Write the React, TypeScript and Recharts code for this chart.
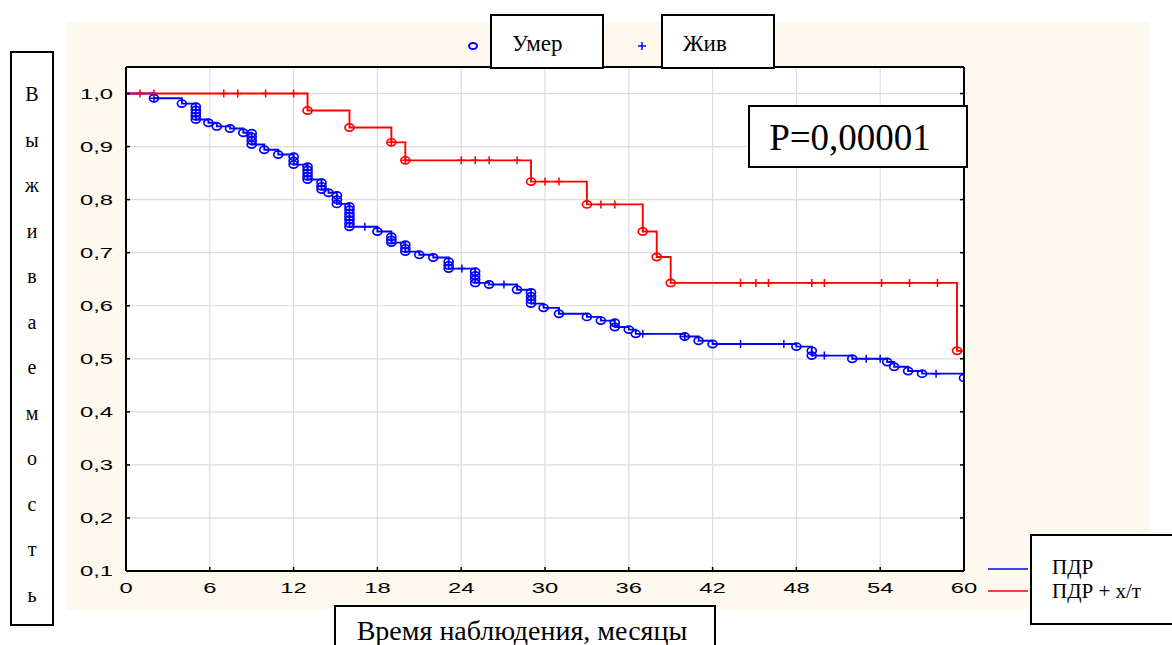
import React from 'react';
import { ComposedChart, Line, Scatter, XAxis, YAxis, CartesianGrid } from 'recharts';

// ---- axis ticks ----
const xTicks = [0, 6, 12, 18, 24, 30, 36, 42, 48, 54, 60];
const yTicks = [0.1, 0.2, 0.3, 0.4, 0.5, 0.6, 0.7, 0.8, 0.9, 1.0];
const topTicks = [0, 1, 2, 3, 4, 5, 6, 7];

// ---- ПДР (blue) Kaplan–Meier steps ----
const blueTimes = [0, 2, 4, 5, 5.9, 6.5, 7.45, 8.4, 9, 9.9, 10.9, 12, 13, 14, 14.5, 15.1, 16, 18, 19, 20, 21, 22, 23.1, 25, 26, 28, 29, 29.9, 31, 33, 34, 35, 36, 36.5, 40, 41, 42, 48, 49.1, 52, 54.5, 55, 56, 57, 60];
const blueSurv = [1, 0.991, 0.981, 0.951, 0.945, 0.938, 0.934, 0.926, 0.904, 0.894, 0.885, 0.866, 0.838, 0.819, 0.813, 0.792, 0.749, 0.74, 0.719, 0.702, 0.696, 0.691, 0.67, 0.643, 0.64, 0.63, 0.604, 0.596, 0.585, 0.579, 0.572, 0.56, 0.555, 0.547, 0.542, 0.534, 0.528, 0.523, 0.506, 0.5, 0.494, 0.485, 0.477, 0.472, 0.464];

// blue complete observations (Умер), [time, survival]
const blueDeaths: [number, number][] = [
  [2, 0.991], [4, 0.981],
  [5, 0.975], [5, 0.969], [5, 0.963], [5, 0.957], [5, 0.951],
  [5.9, 0.945], [6.5, 0.938], [7.45, 0.934], [8.4, 0.926],
  [9, 0.925], [9, 0.918], [9, 0.911], [9, 0.904],
  [9.9, 0.894], [10.9, 0.885],
  [12, 0.881], [12, 0.873], [12, 0.866],
  [13, 0.862], [13, 0.856], [13, 0.85], [13, 0.844], [13, 0.838],
  [14, 0.832], [14, 0.825], [14, 0.819],
  [14.5, 0.813],
  [15.1, 0.808], [15.1, 0.8], [15.1, 0.792],
  [16, 0.787], [16, 0.781], [16, 0.774], [16, 0.768], [16, 0.762], [16, 0.755], [16, 0.749],
  [18, 0.74],
  [19, 0.73], [19, 0.724], [19, 0.719],
  [20, 0.715], [20, 0.708], [20, 0.702],
  [21, 0.696], [22, 0.691],
  [23.1, 0.683], [23.1, 0.676], [23.1, 0.67],
  [25, 0.664], [25, 0.657], [25, 0.65], [25, 0.643],
  [26, 0.64], [28, 0.63],
  [29, 0.625], [29, 0.618], [29, 0.611], [29, 0.604],
  [29.9, 0.596], [31, 0.585], [33, 0.579], [34, 0.572],
  [35, 0.568], [35, 0.56],
  [36, 0.555], [36.5, 0.547],
  [40, 0.542], [41, 0.534], [42, 0.528], [48, 0.523],
  [49.1, 0.515], [49.1, 0.506],
  [52, 0.5], [54.5, 0.494], [55, 0.485], [56, 0.477], [57, 0.472], [60, 0.464],
];
// blue censored observations (Жив)
const blueCensored: [number, number][] = [
  [2, 0.991], [17.1, 0.749], [24.05, 0.67], [27.06, 0.64], [37, 0.547], [40, 0.542],
  [44, 0.528], [47.1, 0.528], [50, 0.506], [53, 0.5], [54, 0.5], [58, 0.472],
];

// ---- ПДР + х/т (red) ----
const redTimes = [0, 13, 16, 19, 20, 29, 33, 37, 38, 39, 59.5, 60];
const redSurv = [1, 0.968, 0.936, 0.908, 0.874, 0.834, 0.791, 0.74, 0.692, 0.643, 0.515, 0.515];
const redDeaths: [number, number][] = [
  [13, 0.968], [16, 0.936], [19, 0.908], [20, 0.874], [29, 0.834], [33, 0.791],
  [37, 0.74], [38, 0.692], [39, 0.643], [59.5, 0.515],
];
const redCensored: [number, number][] = [
  [1, 1], [2, 1], [7, 1], [8, 1], [10, 1], [12, 1], [19, 0.908], [20, 0.874],
  [24, 0.874], [25, 0.874], [26, 0.874], [28, 0.874], [30, 0.834], [31, 0.834],
  [34, 0.791], [35, 0.791], [44, 0.643], [45.1, 0.643], [46, 0.643], [49.1, 0.643],
  [50, 0.643], [54.1, 0.643], [56.1, 0.643], [58.1, 0.643],
];

const yLabelLetters = ['В', 'ы', 'ж', 'и', 'в', 'а', 'е', 'м', 'о', 'с', 'т', 'ь'];

const BLUE = '#0000ff';
const RED = '#ff0000';

const toPts = (arr: [number, number][]) => arr.map(([t, s]) => ({ t, s }));
const blueLine = blueTimes.map((t, i) => ({ t, s: blueSurv[i] }));
const redLine = redTimes.map((t, i) => ({ t, s: redSurv[i] }));

const fmt = (v: number) => v.toFixed(1).replace('.', ',');

const SANS = '"Liberation Sans", Arial, sans-serif';
const SERIF = '"Liberation Serif", "Times New Roman", serif';

const LeftTick = (p: any) => {
  const { x, y, payload } = p;
  return (
    <g>
      <line x1={x} x2={x + 4} y1={y} y2={y} stroke="#000" strokeWidth={1.5} />
      <text transform={`translate(${x - 13},${y}) scale(1.7,1)`} textAnchor="end" dy="0.36em"
        fontFamily={SANS} fontSize={14} fill="#000">{fmt(payload.value)}</text>
    </g>
  );
};
const BottomTick = (p: any) => {
  const { x, y, payload } = p;
  return (
    <g>
      <line x1={x} x2={x} y1={y - 4} y2={y} stroke="#000" strokeWidth={1.5} />
      <text transform={`translate(${x},${y + 22}) scale(1.7,1)`} textAnchor="middle"
        fontFamily={SANS} fontSize={14} fill="#000">{payload.value}</text>
    </g>
  );
};
const TopTick = (p: any) => {
  const { x, y } = p;
  return <line x1={x} x2={x} y1={y} y2={y + 4} stroke="#000" strokeWidth={1.5} />;
};
const RightTick = (p: any) => {
  const { x, y } = p;
  return <line x1={x - 4} x2={x} y1={y} y2={y} stroke="#000" strokeWidth={1.5} />;
};

const circleShape = (color: string) => (p: any) => (
  <ellipse cx={p.cx} cy={p.cy} rx={4.5} ry={3.6} fill="none" stroke={color} strokeWidth={1.7} />
);
const plusShape = (color: string) => (p: any) => (
  <path d={`M${p.cx - 4},${p.cy}H${p.cx + 4}M${p.cx},${p.cy - 4}V${p.cy + 4}`} stroke={color} strokeWidth={1.5} fill="none" />
);

export default function App() {
  return (
    <div style={{ position: 'absolute', left: 0, top: 0, width: 1172, height: 645, background: '#fff', overflow: 'hidden' }}>
      <div style={{ position: 'absolute', left: 66, top: 22, width: 1084, height: 588, background: '#fdf9ee' }} />
      <div style={{ position: 'absolute', left: 0, top: 0 }}>
        <ComposedChart width={1172} height={645} margin={{ top: 59, right: 200, bottom: 44, left: 66 }}>
          <CartesianGrid xAxisId="x" yAxisId="y" stroke="#dcdcdc" strokeWidth={1.2} fill="#ffffff" />
          <XAxis xAxisId="x" dataKey="t" type="number" domain={[0, 60]} ticks={xTicks} allowDataOverflow
            height={30} tickSize={0} tickMargin={0} tickLine={false} axisLine={{ stroke: '#000', strokeWidth: 2 }}
            tick={<BottomTick />} interval={0} />
          <XAxis xAxisId="top" orientation="top" type="number" domain={[-0.25, 7]} ticks={topTicks} allowDataOverflow
            height={8} tickSize={0} tickMargin={0} tickLine={false} axisLine={{ stroke: '#000', strokeWidth: 2 }}
            tick={<TopTick />} interval={0} />
          <YAxis yAxisId="y" dataKey="s" type="number" domain={[0.1, 1.05]} ticks={yTicks} allowDataOverflow
            width={60} tickSize={0} tickMargin={0} tickLine={false} axisLine={{ stroke: '#000', strokeWidth: 2 }}
            tick={<LeftTick />} interval={0} />
          <YAxis yAxisId="r" orientation="right" type="number" domain={[0.1, 1.05]} ticks={yTicks} allowDataOverflow
            width={8} tickSize={0} tickMargin={0} tickLine={false} axisLine={{ stroke: '#000', strokeWidth: 2 }}
            tick={<RightTick />} interval={0} />

          <Line xAxisId="x" yAxisId="y" data={blueLine} dataKey="s" type="stepAfter" stroke={BLUE} strokeWidth={1.9}
            dot={false} activeDot={false} isAnimationActive={false} />
          <Scatter xAxisId="x" yAxisId="y" data={toPts(blueDeaths)} dataKey="s" shape={circleShape(BLUE)} isAnimationActive={false} />
          <Scatter xAxisId="x" yAxisId="y" data={toPts(blueCensored)} dataKey="s" shape={plusShape(BLUE)} isAnimationActive={false} />

          <Line xAxisId="x" yAxisId="y" data={redLine} dataKey="s" type="stepAfter" stroke={RED} strokeWidth={1.9}
            dot={false} activeDot={false} isAnimationActive={false} />
          <Scatter xAxisId="x" yAxisId="y" data={toPts(redDeaths)} dataKey="s" shape={circleShape(RED)} isAnimationActive={false} />
          <Scatter xAxisId="x" yAxisId="y" data={toPts(redCensored)} dataKey="s" shape={plusShape(RED)} isAnimationActive={false} />
        </ComposedChart>
      </div>
      <svg width={1172} height={645} style={{ position: 'absolute', left: 0, top: 0, pointerEvents: 'none' }}>
        {/* y-axis title box */}
        <rect x={11} y={52} width={42} height={573} fill="#fff" stroke="#000" strokeWidth={2} />
        {yLabelLetters.map((ch, i) => (
          <text key={i} x={32} y={94 + i * 45.5} dy="0.35em" textAnchor="middle" fontFamily={SERIF} fontSize={20} fill="#000">{ch}</text>
        ))}
        {/* top legend */}
        <ellipse cx={473} cy={46} rx={4} ry={3} fill="none" stroke={BLUE} strokeWidth={2} />
        <rect x={491} y={15} width={112} height={53} fill="#fff" stroke="#000" strokeWidth={2} />
        <text x={512} y={44} dy="0.3em" fontFamily={SERIF} fontSize={23} fill="#000">Умер</text>
        <path d="M638,46H646M642,42V50" stroke={BLUE} strokeWidth={1.5} />
        <rect x={662} y={15} width={112} height={53} fill="#fff" stroke="#000" strokeWidth={2} />
        <text x={683} y={44} dy="0.3em" fontFamily={SERIF} fontSize={23} fill="#000">Жив</text>
        {/* P value box */}
        <rect x={749} y={106} width={218} height={61} fill="#fff" stroke="#000" strokeWidth={2} />
        <text x={850} y={137} dy="0.35em" textAnchor="middle" fontFamily={SERIF} fontSize={37} fill="#000">P=0,00001</text>
        {/* series legend */}
        <line x1={988} x2={1028} y1={569} y2={569} stroke={BLUE} strokeWidth={1.5} />
        <line x1={988} x2={1028} y1={591} y2={591} stroke={RED} strokeWidth={1.5} />
        <rect x={1031} y={535} width={150} height={89} fill="#fff" stroke="#000" strokeWidth={2} />
        <text x={1052} y={567} dy="0.35em" fontFamily={SERIF} fontSize={21} fill="#000">ПДР</text>
        <text x={1052} y={591} dy="0.35em" fontFamily={SERIF} fontSize={21} fill="#000">ПДР + х/т</text>
        {/* x-axis title box */}
        <rect x={335} y={606} width={380} height={60} fill="#fff" stroke="#000" strokeWidth={2} />
        <text x={522} y={630} dy="0.35em" textAnchor="middle" fontFamily={SERIF} fontSize={28} fill="#000">Время наблюдения, месяцы</text>
      </svg>
    </div>
  );
}
